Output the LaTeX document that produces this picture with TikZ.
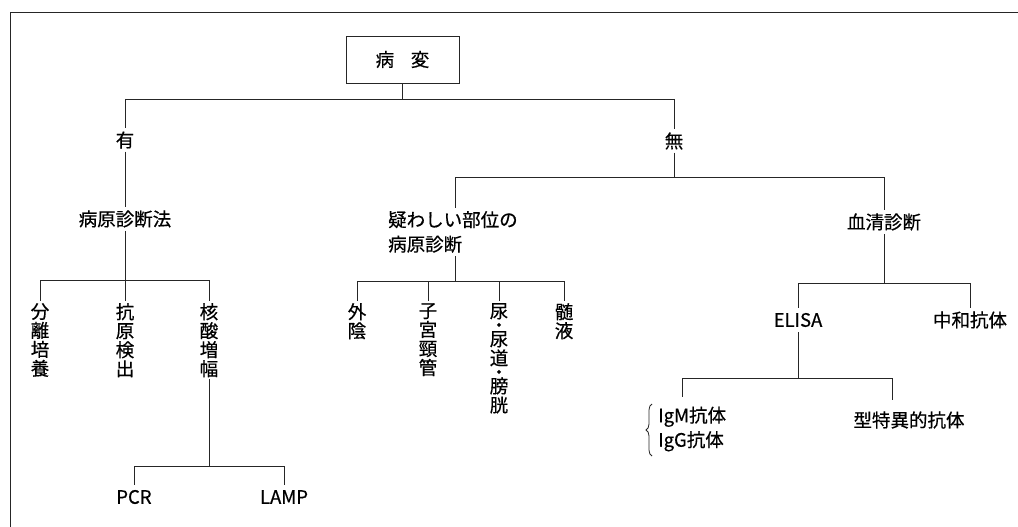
\documentclass[tikz,border=0pt]{standalone}
\usepackage{fontspec}
\setmainfont{Noto Sans CJK JP}[FakeBold=0.5]
\usetikzlibrary{decorations.pathreplacing}
\newcommand\jpf{\fontsize{18.5}{22}\selectfont}
\newcommand\jpv{\fontsize{18.5}{19}\selectfont}
\newcommand\jpt{\fontsize{18.5}{24.5}\selectfont}
\begin{document}
\begin{tikzpicture}[x=1pt,y=-1pt,
  ln/.style={line width=0.9pt,draw=black!85},
  lbl/.style={inner sep=3pt,font=\jpf},
  lat/.style={inner sep=5pt,font=\jpf},
  vtxt/.style={anchor=north,inner sep=2pt,align=center,font=\jpv},
]
\useasboundingbox (0,0) rectangle (1018,527);
\draw[ln] (10,527) -- (10,12) -- (1018,12);

% root
\node[ln,draw,minimum width=113pt,minimum height=47pt,font=\jpf] (root) at (402.5,59.5) {病\hspace{0.9em}変};
\coordinate (j0) at (402.5,99);
\coordinate (jL) at (125,99);
\coordinate (jR) at (674,99);
\draw[ln] (root) -- (j0);
\draw[ln] (jL) -- (jR);

% left branch
\node[lbl] (yu) at (125,140) {有};
\node[lbl] (byogen) at (125,219) {病原診断法};
\coordinate (a1) at (40,280);
\coordinate (a2) at (125,280);
\coordinate (a3) at (209,280);
\draw[ln] (jL) -- (yu);
\draw[ln] (yu) -- (byogen);
\draw[ln] (byogen) -- (a2);
\draw[ln] (a1) -- (a3);
\node[vtxt] (bunri) at (40,301) {分\\離\\培\\養};
\node[vtxt] (kogen) at (125,301) {抗\\原\\検\\出};
\node[vtxt] (kakusan) at (209,301) {核\\酸\\増\\幅};
\draw[ln] (a1) -- (bunri);
\draw[ln] (a2) -- (kogen);
\draw[ln] (a3) -- (kakusan);
\coordinate (k1) at (209,466);
\coordinate (p1) at (134,466);
\coordinate (p2) at (284,466);
\draw[ln] (kakusan) -- (k1);
\draw[ln] (p1) -- (p2);
\node[lat] (pcr) at (134,497) {PCR};
\node[lat] (lamp) at (284,497) {LAMP};
\draw[ln] (p1) -- (pcr);
\draw[ln] (p2) -- (lamp);

% right branch
\node[lbl] (mu) at (674,141) {無};
\coordinate (jM) at (674,177);
\coordinate (m1) at (455,177);
\coordinate (m2) at (884,177);
\draw[ln] (jR) -- (mu);
\draw[ln] (mu) -- (jM);
\draw[ln] (m1) -- (m2);

\node[lbl,align=left,anchor=west,font=\jpt] (utagai) at (385,232) {疑わしい部位の\\病原診断};
\coordinate (u0) at (455,281);
\draw[ln] (m1) -- (m1 |- utagai.north);
\draw[ln] (m1 |- utagai.south) -- (u0);
\coordinate (u1) at (357,281);
\coordinate (u2) at (428,281);
\coordinate (u3) at (499,281);
\coordinate (u4) at (564,281);
\draw[ln] (u1) -- (u4);
\node[vtxt] (gaiin) at (357,301) {外\\陰};
\node[vtxt] (shikyu) at (428,301) {子\\宮\\頸\\管};
\node[vtxt] (nyo) at (499,301) {尿\\[-5pt]・\\[-5pt]尿\\道\\[-5pt]・\\[-5pt]膀\\胱};
\node[vtxt] (zuieki) at (564,301) {髄\\液};
\draw[ln] (u1) -- (gaiin);
\draw[ln] (u2) -- (shikyu);
\draw[ln] (u3) -- (nyo);
\draw[ln] (u4) -- (zuieki);

\node[lbl] (kessei) at (884,222) {血清診断};
\coordinate (s0) at (884,283);
\coordinate (s1) at (798,283);
\coordinate (s2) at (970,283);
\draw[ln] (m2) -- (kessei);
\draw[ln] (kessei) -- (s0);
\draw[ln] (s1) -- (s2);
\node[lat] (elisa) at (798,320) {ELISA};
\node[lbl] (chuwa) at (970,320) {中和抗体};
\draw[ln] (s1) -- (elisa);
\draw[ln] (s2) -- (chuwa);
\coordinate (e0) at (798,378);
\coordinate (e1) at (682,378);
\coordinate (e2) at (892,378);
\draw[ln] (elisa) -- (e0);
\draw[ln] (e1) -- (e2);
\node[lbl,align=left,anchor=west,font=\jpt] (igm) at (655,429) {IgM抗体\\IgG抗体};
\node[lbl] (gata) at (909,420) {型特異的抗体};
\draw[ln,shorten >=6pt] (e1) -- (e1 |- igm.north);
\draw[ln,shorten >=8pt] (e2) -- (e2 |- gata.north);
\draw[line width=0.8pt,draw=black!85,decorate,decoration={brace,amplitude=6pt}] (652,456) -- (652,404);
\end{tikzpicture}
\end{document}
